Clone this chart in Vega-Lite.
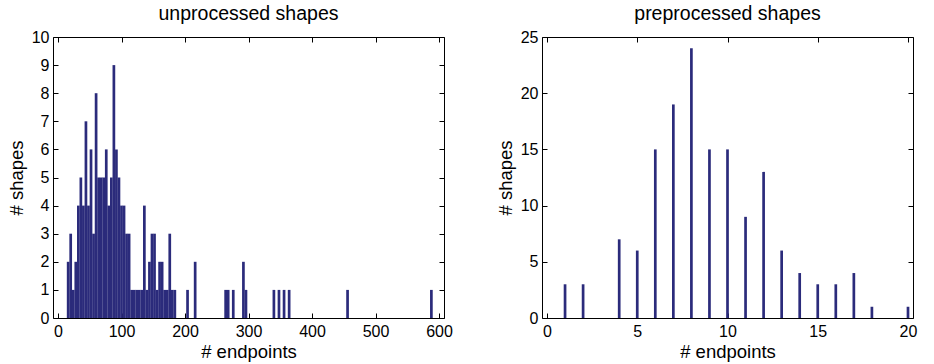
{
  "$schema": "https://vega.github.io/schema/vega-lite/v6.json",
  "usermeta": {"embedOptions": {"actions": false}},
  "background": "white",
  "padding": {"left": 6, "top": 3, "right": 3, "bottom": 3},
  "bounds": "flush",
  "spacing": 98,
  "config": {
    "font": "Liberation Sans",
    "view": {"stroke": "black", "strokeWidth": 1},
    "axis": {
      "grid": false,
      "domain": false,
      "labelFlush": false,
      "tickColor": "black",
      "tickSize": -5,
      "tickWidth": 1,
      "labelFont": "Liberation Sans",
      "labelFontSize": 16,
      "labelColor": "black",
      "titleFont": "Liberation Sans",
      "titleFontSize": 18.5,
      "titleFontWeight": "normal",
      "titleColor": "black"
    },
    "title": {"font": "Liberation Sans", "fontSize": 19.5, "fontWeight": "normal", "color": "black", "baseline": "alphabetic", "offset": 5}
  },
  "datasets": {
    "unprocessed": [
      {"endpoints": 16, "shapes": 2}, {"endpoints": 20, "shapes": 3}, {"endpoints": 24, "shapes": 1},
      {"endpoints": 28, "shapes": 2}, {"endpoints": 32, "shapes": 4}, {"endpoints": 36, "shapes": 5},
      {"endpoints": 40, "shapes": 4}, {"endpoints": 44, "shapes": 7}, {"endpoints": 48, "shapes": 4},
      {"endpoints": 52, "shapes": 6}, {"endpoints": 56, "shapes": 3}, {"endpoints": 60, "shapes": 8},
      {"endpoints": 64, "shapes": 5}, {"endpoints": 68, "shapes": 5}, {"endpoints": 72, "shapes": 5},
      {"endpoints": 76, "shapes": 6}, {"endpoints": 80, "shapes": 4}, {"endpoints": 84, "shapes": 5},
      {"endpoints": 88, "shapes": 9}, {"endpoints": 92, "shapes": 6}, {"endpoints": 96, "shapes": 5},
      {"endpoints": 100, "shapes": 4}, {"endpoints": 104, "shapes": 4}, {"endpoints": 108, "shapes": 3},
      {"endpoints": 112, "shapes": 3}, {"endpoints": 116, "shapes": 1}, {"endpoints": 120, "shapes": 1},
      {"endpoints": 124, "shapes": 1}, {"endpoints": 128, "shapes": 1}, {"endpoints": 132, "shapes": 1},
      {"endpoints": 136, "shapes": 4}, {"endpoints": 140, "shapes": 1}, {"endpoints": 144, "shapes": 2},
      {"endpoints": 148, "shapes": 3}, {"endpoints": 152, "shapes": 3}, {"endpoints": 156, "shapes": 1},
      {"endpoints": 160, "shapes": 2}, {"endpoints": 164, "shapes": 2}, {"endpoints": 168, "shapes": 1},
      {"endpoints": 172, "shapes": 1}, {"endpoints": 176, "shapes": 3}, {"endpoints": 180, "shapes": 1},
      {"endpoints": 184, "shapes": 1}, {"endpoints": 204, "shapes": 1}, {"endpoints": 216, "shapes": 2},
      {"endpoints": 264, "shapes": 1}, {"endpoints": 268, "shapes": 1}, {"endpoints": 276, "shapes": 1},
      {"endpoints": 292, "shapes": 2}, {"endpoints": 296, "shapes": 1}, {"endpoints": 340, "shapes": 1},
      {"endpoints": 348, "shapes": 1}, {"endpoints": 356, "shapes": 1}, {"endpoints": 364, "shapes": 1},
      {"endpoints": 456, "shapes": 1}, {"endpoints": 588, "shapes": 1}
    ],
    "preprocessed": [
      {"endpoints": 1, "shapes": 3}, {"endpoints": 2, "shapes": 3}, {"endpoints": 3, "shapes": 0},
      {"endpoints": 4, "shapes": 7}, {"endpoints": 5, "shapes": 6}, {"endpoints": 6, "shapes": 15},
      {"endpoints": 7, "shapes": 19}, {"endpoints": 8, "shapes": 24}, {"endpoints": 9, "shapes": 15},
      {"endpoints": 10, "shapes": 15}, {"endpoints": 11, "shapes": 9}, {"endpoints": 12, "shapes": 13},
      {"endpoints": 13, "shapes": 6}, {"endpoints": 14, "shapes": 4}, {"endpoints": 15, "shapes": 3},
      {"endpoints": 16, "shapes": 3}, {"endpoints": 17, "shapes": 4}, {"endpoints": 18, "shapes": 1},
      {"endpoints": 19, "shapes": 0}, {"endpoints": 20, "shapes": 1}
    ]
  },
  "hconcat": [
    {
      "title": "unprocessed shapes",
      "width": 391,
      "height": 281,
      "data": {"name": "unprocessed"},
      "layer": [
        {
          "mark": {"type": "bar", "size": 2.7, "color": "#2b2b7b", "clip": true},
          "encoding": {
            "x": {"field": "endpoints", "type": "quantitative",
                  "scale": {"domain": [0, 600], "nice": false},
                  "axis": {"values": [0, 100, 200, 300, 400, 500, 600], "title": "# endpoints", "labelPadding": 10, "titlePadding": 3}},
            "y": {"field": "shapes", "type": "quantitative",
                  "scale": {"domain": [0, 10], "nice": false},
                  "axis": {"values": [0, 1, 2, 3, 4, 5, 6, 7, 8, 9, 10], "title": "# shapes", "labelPadding": 9, "titlePadding": 5}}
          }
        },
        {
          "mark": {"type": "bar", "size": 2.7, "opacity": 0},
          "encoding": {
            "x": {"field": "endpoints", "type": "quantitative",
                  "axis": {"orient": "top", "values": [0, 100, 200, 300, 400, 500, 600], "labels": false, "title": null}},
            "y": {"field": "shapes", "type": "quantitative",
                  "axis": {"orient": "right", "values": [0, 1, 2, 3, 4, 5, 6, 7, 8, 9, 10], "labels": false, "title": null}}
          }
        }
      ],
      "resolve": {"axis": {"x": "independent", "y": "independent"}}
    },
    {
      "title": "preprocessed shapes",
      "width": 371,
      "height": 281,
      "data": {"name": "preprocessed"},
      "layer": [
        {
          "mark": {"type": "bar", "size": 2.7, "color": "#2b2b7b", "clip": true},
          "encoding": {
            "x": {"field": "endpoints", "type": "quantitative",
                  "scale": {"domain": [0, 20], "nice": false},
                  "axis": {"values": [0, 5, 10, 15, 20], "title": "# endpoints", "labelPadding": 10, "titlePadding": 3}},
            "y": {"field": "shapes", "type": "quantitative",
                  "scale": {"domain": [0, 25], "nice": false},
                  "axis": {"values": [0, 5, 10, 15, 20, 25], "title": "# shapes", "labelPadding": 9, "titlePadding": 5}}
          }
        },
        {
          "mark": {"type": "bar", "size": 2.7, "opacity": 0},
          "encoding": {
            "x": {"field": "endpoints", "type": "quantitative",
                  "axis": {"orient": "top", "values": [0, 5, 10, 15, 20], "labels": false, "title": null}},
            "y": {"field": "shapes", "type": "quantitative",
                  "axis": {"orient": "right", "values": [0, 5, 10, 15, 20, 25], "labels": false, "title": null}}
          }
        }
      ],
      "resolve": {"axis": {"x": "independent", "y": "independent"}}
    }
  ]
}
